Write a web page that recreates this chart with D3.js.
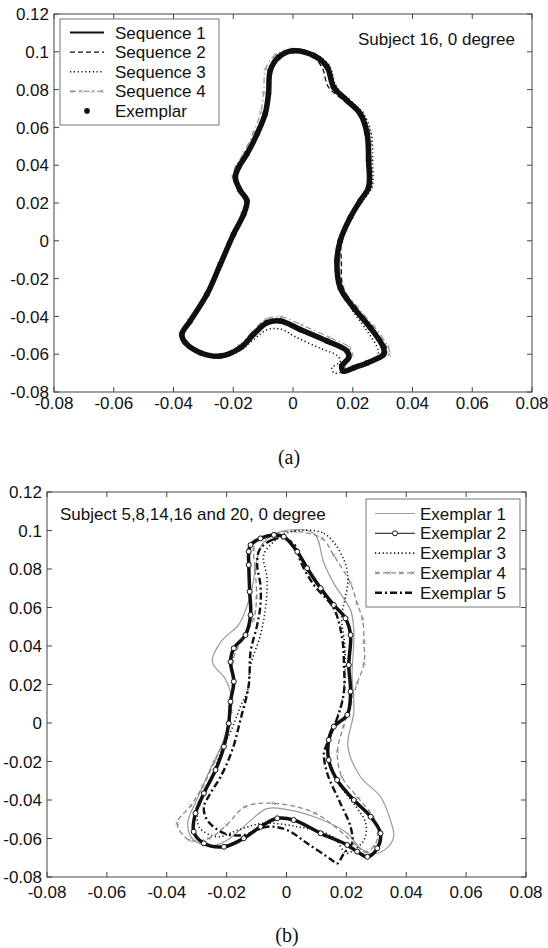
<!DOCTYPE html>
<html lang="en">
<head>
<meta charset="UTF-8">
<title>Silhouette contours, subject 16 and exemplars</title>
<style>
  body { margin: 0; background: #fff; }
  svg { display: block; }
  text { font-family: "Liberation Sans", Arial, sans-serif; fill: #111; }
  .caption { font-family: "Liberation Serif", "Times New Roman", serif; }
</style>
</head>
<body>
<svg id="chart" width="548" height="948"></svg>

<script src="https://d3js.org/d3.v7.min.js"></script>
<script>
// ---- axis ticks (same on both panels) ----
const xTicks = [-0.08, -0.06, -0.04, -0.02, 0, 0.02, 0.04, 0.06, 0.08];
const xTickLabels = ["-0.08", "-0.06", "-0.04", "-0.02", "0", "0.02", "0.04", "0.06", "0.08"];
const yTicks = [-0.08, -0.06, -0.04, -0.02, 0, 0.02, 0.04, 0.06, 0.08, 0.1, 0.12];
const yTickLabels = ["-0.08", "-0.06", "-0.04", "-0.02", "0", "0.02", "0.04", "0.06", "0.08", "0.1", "0.12"];

// ---- panel (a): subject 16, four sequences + exemplar ----
const seriesNamesA = ["Sequence 1", "Sequence 2", "Sequence 3", "Sequence 4", "Exemplar"];
const titleA = "Subject 16, 0 degree";

const seq1A = [
  [0.0000,0.1005],[0.0069,0.0980],[0.0114,0.0920],[0.0136,0.0813],[0.0180,0.0743],[0.0225,0.0672],
  [0.0248,0.0566],[0.0253,0.0424],[0.0253,0.0283],[0.0225,0.0212],[0.0192,0.0124],[0.0158,0.0000],
  [0.0147,-0.0106],[0.0158,-0.0248],[0.0203,-0.0354],[0.0259,-0.0460],[0.0303,-0.0566],[0.0303,-0.0601],
  [0.0248,-0.0646],[0.0203,-0.0672],[0.0169,-0.0690],[0.0163,-0.0663],[0.0186,-0.0619],[0.0181,-0.0584],
  [0.0114,-0.0530],[0.0024,-0.0469],[-0.0042,-0.0424],[-0.0087,-0.0433],[-0.0132,-0.0495],[-0.0176,-0.0566],
  [-0.0243,-0.0610],[-0.0310,-0.0592],[-0.0360,-0.0540],[-0.0372,-0.0495],[-0.0344,-0.0424],[-0.0288,-0.0283],
  [-0.0243,-0.0124],[-0.0199,0.0035],[-0.0165,0.0141],[-0.0154,0.0212],[-0.0176,0.0265],[-0.0193,0.0336],
  [-0.0182,0.0389],[-0.0154,0.0460],[-0.0120,0.0566],[-0.0093,0.0672],[-0.0082,0.0778],[-0.0076,0.0902],
  [-0.0048,0.0972]
];
const seq2A = [
  [0.0005,0.1000],[0.0066,0.0975],[0.0098,0.0915],[0.0118,0.0815],[0.0168,0.0745],[0.0220,0.0675],
  [0.0246,0.0566],[0.0251,0.0424],[0.0251,0.0283],[0.0222,0.0212],[0.0190,0.0124],[0.0162,0.0000],
  [0.0162,-0.0106],[0.0168,-0.0248],[0.0210,-0.0354],[0.0266,-0.0460],[0.0312,-0.0566],[0.0310,-0.0605],
  [0.0250,-0.0650],[0.0200,-0.0676],[0.0165,-0.0695],[0.0160,-0.0665],[0.0184,-0.0622],[0.0180,-0.0586],
  [0.0114,-0.0534],[0.0024,-0.0473],[-0.0042,-0.0428],[-0.0088,-0.0436],[-0.0133,-0.0497],[-0.0177,-0.0568],
  [-0.0244,-0.0612],[-0.0312,-0.0594],[-0.0362,-0.0540],[-0.0374,-0.0493],[-0.0346,-0.0422],[-0.0290,-0.0281],
  [-0.0245,-0.0122],[-0.0201,0.0037],[-0.0167,0.0143],[-0.0156,0.0214],[-0.0180,0.0265],[-0.0198,0.0336],
  [-0.0186,0.0391],[-0.0158,0.0462],[-0.0124,0.0568],[-0.0098,0.0674],[-0.0086,0.0780],[-0.0080,0.0905],
  [-0.0050,0.0975]
];
const seq3A = [
  [0.0010,0.1010],[0.0078,0.0985],[0.0122,0.0925],[0.0145,0.0815],[0.0190,0.0745],[0.0236,0.0672],
  [0.0262,0.0566],[0.0266,0.0424],[0.0264,0.0283],[0.0234,0.0212],[0.0198,0.0124],[0.0162,0.0000],
  [0.0150,-0.0106],[0.0155,-0.0248],[0.0195,-0.0360],[0.0245,-0.0470],[0.0285,-0.0580],[0.0280,-0.0625],
  [0.0225,-0.0660],[0.0180,-0.0685],[0.0138,-0.0700],[0.0130,-0.0672],[0.0158,-0.0640],[0.0150,-0.0610],
  [0.0090,-0.0568],[0.0010,-0.0510],[-0.0040,-0.0468],[-0.0085,-0.0470],[-0.0130,-0.0520],[-0.0176,-0.0580],
  [-0.0243,-0.0618],[-0.0310,-0.0598],[-0.0358,-0.0545],[-0.0370,-0.0495],[-0.0342,-0.0424],[-0.0287,-0.0283],
  [-0.0242,-0.0124],[-0.0198,0.0035],[-0.0164,0.0141],[-0.0153,0.0212],[-0.0175,0.0265],[-0.0192,0.0336],
  [-0.0181,0.0389],[-0.0153,0.0460],[-0.0119,0.0566],[-0.0092,0.0672],[-0.0081,0.0778],[-0.0075,0.0902],
  [-0.0045,0.0975]
];
const seq4A = [
  [-0.0005,0.1015],[0.0070,0.0990],[0.0118,0.0930],[0.0142,0.0822],[0.0186,0.0750],[0.0232,0.0678],
  [0.0258,0.0570],[0.0262,0.0424],[0.0262,0.0283],[0.0232,0.0212],[0.0198,0.0124],[0.0165,0.0000],
  [0.0156,-0.0106],[0.0168,-0.0248],[0.0215,-0.0350],[0.0272,-0.0455],[0.0318,-0.0560],[0.0322,-0.0600],
  [0.0262,-0.0640],[0.0212,-0.0664],[0.0178,-0.0680],[0.0176,-0.0652],[0.0198,-0.0604],[0.0190,-0.0566],
  [0.0120,-0.0510],[0.0030,-0.0446],[-0.0040,-0.0402],[-0.0090,-0.0415],[-0.0136,-0.0480],[-0.0182,-0.0555],
  [-0.0248,-0.0604],[-0.0316,-0.0588],[-0.0366,-0.0538],[-0.0378,-0.0493],[-0.0350,-0.0420],[-0.0294,-0.0280],
  [-0.0249,-0.0120],[-0.0205,0.0040],[-0.0172,0.0145],[-0.0162,0.0215],[-0.0185,0.0268],[-0.0202,0.0338],
  [-0.0192,0.0392],[-0.0165,0.0465],[-0.0133,0.0572],[-0.0108,0.0680],[-0.0098,0.0785],[-0.0092,0.0908],
  [-0.0058,0.0985]
];
// the exemplar is the contour of sequence 1
const exemplarA = seq1A;

// ---- panel (b): exemplars of subjects 5, 8, 14, 16 and 20 ----
const seriesNamesB = ["Exemplar 1", "Exemplar 2", "Exemplar 3", "Exemplar 4", "Exemplar 5"];
const titleB = "Subject 5,8,14,16 and 20, 0 degree";

const ex1B = [
  [-0.0020,0.0994],[0.0091,0.0985],[0.0125,0.0830],[0.0160,0.0720],[0.0214,0.0587],[0.0225,0.0474],
  [0.0219,0.0249],[0.0225,0.0059],[0.0205,-0.0120],[0.0247,-0.0279],[0.0314,-0.0383],[0.0347,-0.0504],
  [0.0358,-0.0590],[0.0335,-0.0650],[0.0290,-0.0680],[0.0250,-0.0655],[0.0203,-0.0573],[0.0114,-0.0500],
  [0.0002,-0.0450],[-0.0065,-0.0445],[-0.0130,-0.0520],[-0.0200,-0.0610],[-0.0260,-0.0640],[-0.0315,-0.0600],
  [-0.0330,-0.0520],[-0.0300,-0.0400],[-0.0255,-0.0240],[-0.0215,-0.0110],[-0.0190,0.0010],[-0.0185,0.0140],
  [-0.0205,0.0230],[-0.0248,0.0318],[-0.0220,0.0420],[-0.0160,0.0510],[-0.0143,0.0561],[-0.0115,0.0700],
  [-0.0100,0.0840],[-0.0080,0.0930]
];
const ex2B = [
  [-0.0120,0.0925],[-0.0087,0.0959],[-0.0042,0.0977],[-0.0009,0.0968],[0.0036,0.0890],[0.0069,0.0804],
  [0.0114,0.0700],[0.0158,0.0613],[0.0197,0.0544],[0.0214,0.0457],[0.0208,0.0301],[0.0214,0.0163],
  [0.0203,0.0042],[0.0158,-0.0019],[0.0141,-0.0088],[0.0141,-0.0192],[0.0169,-0.0296],[0.0225,-0.0400],
  [0.0281,-0.0487],[0.0314,-0.0573],[0.0303,-0.0651],[0.0270,-0.0695],[0.0236,-0.0668],[0.0203,-0.0634],
  [0.0114,-0.0573],[0.0024,-0.0504],[-0.0031,-0.0495],[-0.0087,-0.0539],[-0.0143,-0.0599],[-0.0209,-0.0643],
  [-0.0276,-0.0625],[-0.0310,-0.0565],[-0.0304,-0.0469],[-0.0276,-0.0365],[-0.0237,-0.0244],[-0.0209,-0.0123],
  [-0.0193,-0.0002],[-0.0187,0.0111],[-0.0176,0.0215],[-0.0187,0.0318],[-0.0176,0.0388],[-0.0137,0.0457],
  [-0.0120,0.0561],[-0.0123,0.0682],[-0.0126,0.0821],[-0.0126,0.0891]
];
const ex3B = [
  [0.0005,0.0990],[0.0125,0.0985],[0.0192,0.0847],[0.0205,0.0740],[0.0195,0.0640],[0.0184,0.0552],
  [0.0195,0.0396],[0.0195,0.0240],[0.0184,0.0102],[0.0154,-0.0036],[0.0137,-0.0175],[0.0166,-0.0296],
  [0.0224,-0.0417],[0.0265,-0.0522],[0.0259,-0.0608],[0.0224,-0.0660],[0.0200,-0.0677],[0.0154,-0.0591],
  [0.0037,-0.0539],[-0.0080,-0.0521],[-0.0161,-0.0556],[-0.0231,-0.0591],[-0.0290,-0.0545],[-0.0298,-0.0470],
  [-0.0287,-0.0417],[-0.0255,-0.0300],[-0.0220,-0.0157],[-0.0180,-0.0020],[-0.0150,0.0100],[-0.0131,0.0163],
  [-0.0120,0.0301],[-0.0087,0.0457],[-0.0070,0.0600],[-0.0065,0.0750],[-0.0076,0.0873],[-0.0042,0.0942]
];
const ex4B = [
  [-0.0100,0.0950],[-0.0040,0.0985],[0.0030,0.0995],[0.0119,0.0959],[0.0158,0.0870],[0.0214,0.0726],
  [0.0236,0.0620],[0.0254,0.0540],[0.0259,0.0420],[0.0259,0.0310],[0.0236,0.0206],[0.0215,0.0100],
  [0.0190,-0.0020],[0.0170,-0.0150],[0.0185,-0.0280],[0.0240,-0.0390],[0.0290,-0.0490],[0.0306,-0.0580],
  [0.0292,-0.0640],[0.0262,-0.0670],[0.0230,-0.0630],[0.0096,-0.0469],[-0.0044,-0.0417],[-0.0138,-0.0435],
  [-0.0200,-0.0530],[-0.0260,-0.0600],[-0.0325,-0.0608],[-0.0365,-0.0521],[-0.0320,-0.0430],[-0.0280,-0.0330],
  [-0.0240,-0.0200],[-0.0205,-0.0070],[-0.0185,0.0060],[-0.0180,0.0200],[-0.0180,0.0320],[-0.0150,0.0430],
  [-0.0110,0.0540],[-0.0100,0.0650],[-0.0105,0.0800],[-0.0110,0.0900]
];
const ex5B = [
  [-0.0090,0.0900],[-0.0050,0.0950],[-0.0010,0.0960],[0.0030,0.0920],[0.0047,0.0838],[0.0090,0.0720],
  [0.0158,0.0595],[0.0186,0.0440],[0.0192,0.0301],[0.0192,0.0163],[0.0175,0.0050],[0.0136,-0.0105],
  [0.0125,-0.0157],[0.0136,-0.0261],[0.0180,-0.0417],[0.0214,-0.0539],[0.0219,-0.0625],[0.0192,-0.0677],
  [0.0169,-0.0730],[0.0150,-0.0710],[0.0069,-0.0625],[0.0002,-0.0556],[-0.0064,-0.0539],[-0.0143,-0.0582],
  [-0.0208,-0.0573],[-0.0265,-0.0504],[-0.0276,-0.0435],[-0.0254,-0.0365],[-0.0220,-0.0279],[-0.0181,-0.0140],
  [-0.0154,0.0016],[-0.0126,0.0197],[-0.0120,0.0370],[-0.0098,0.0509],[-0.0087,0.0613],[-0.0087,0.0717],
  [-0.0098,0.0821]
];

// ---- drawing ----
const svg = d3.select("#chart");

const styles = {
  solidBlack:  { color: "#111", width: 2 },
  dashed:      { color: "#111", width: 1.3, dash: "5 3" },
  dotted:      { color: "#111", width: 1.6, dash: "1.2 2.6" },
  grayDashDot: { color: "#999", width: 1.3, dash: "6 3 1.5 3", marker: "x" },
  exemplar:    { color: "#111", width: 5.5, marker: "dot" },
  graySolid:   { color: "#999", width: 1.2 },
  circles:     { color: "#111", width: 3.5, marker: "circle" },
  grayDashed:  { color: "#888", width: 1.3, dash: "5 3", marker: "x" },
  dashDot:     { color: "#111", width: 2.4, dash: "7 3 2 3" }
};

function drawMarkers(g, pts, st) {
  if (st.marker === "circle") {
    g.selectAll(null).data(pts).enter().append("circle")
      .attr("cx", d => d[0]).attr("cy", d => d[1]).attr("r", 2.5)
      .attr("fill", "#fff").attr("stroke", st.color).attr("stroke-width", 1);
  } else if (st.marker === "dot") {
    g.selectAll(null).data(pts).enter().append("circle")
      .attr("cx", d => d[0]).attr("cy", d => d[1]).attr("r", 2.8)
      .attr("fill", st.color);
  } else if (st.marker === "x") {
    g.selectAll(null).data(pts).enter().append("path")
      .attr("d", d => `M${d[0]-1.6},${d[1]-1.6}L${d[0]+1.6},${d[1]+1.6}M${d[0]-1.6},${d[1]+1.6}L${d[0]+1.6},${d[1]-1.6}`)
      .attr("stroke", st.color).attr("stroke-width", 0.9);
  }
}

function drawContour(g, x, y, data, st) {
  const line = d3.line()
    .x(d => x(d[0])).y(d => y(d[1]))
    .curve(d3.curveCatmullRomClosed.alpha(0.5));
  g.append("path").datum(data)
    .attr("d", line)
    .attr("fill", "none")
    .attr("stroke", st.color)
    .attr("stroke-width", st.width)
    .attr("stroke-dasharray", st.dash || null)
    .attr("stroke-linejoin", "round")
    .attr("stroke-linecap", st.marker === "dot" ? "round" : "butt");
  drawMarkers(g, data.map(d => [x(d[0]), y(d[1])]), st);
}

function drawAxes(g, x, y, box) {
  g.append("rect")
    .attr("x", box.left).attr("y", box.top)
    .attr("width", box.right - box.left).attr("height", box.bottom - box.top)
    .attr("fill", "none").attr("stroke", "#444").attr("stroke-width", 1);

  const tl = 5;
  xTicks.forEach((t, i) => {
    const px = x(t);
    g.append("line").attr("x1", px).attr("x2", px).attr("y1", box.bottom).attr("y2", box.bottom - tl)
      .attr("stroke", "#444");
    g.append("line").attr("x1", px).attr("x2", px).attr("y1", box.top).attr("y2", box.top + tl)
      .attr("stroke", "#444");
    g.append("text").attr("x", px).attr("y", box.bottom + box.xLabelDy)
      .attr("text-anchor", "middle").attr("font-size", 17)
      .text(xTickLabels[i]);
  });
  yTicks.forEach((t, i) => {
    const py = y(t);
    g.append("line").attr("x1", box.left).attr("x2", box.left + tl).attr("y1", py).attr("y2", py)
      .attr("stroke", "#444");
    g.append("line").attr("x1", box.right).attr("x2", box.right - tl).attr("y1", py).attr("y2", py)
      .attr("stroke", "#444");
    g.append("text").attr("x", box.left - 5).attr("y", py).attr("dy", "0.36em")
      .attr("text-anchor", "end").attr("font-size", 17)
      .text(yTickLabels[i]);
  });
}

function drawLegend(g, lg, names, sts) {
  g.append("rect")
    .attr("x", lg.x).attr("y", lg.y).attr("width", lg.w).attr("height", lg.h)
    .attr("fill", "#fff").attr("stroke", "#777").attr("stroke-width", 1);
  names.forEach((name, i) => {
    const cy = lg.firstY + i * lg.step;
    const st = sts[i];
    const mid = (lg.x1 + lg.x2) / 2;
    if (st.marker !== "dot") {
      g.append("line").attr("x1", lg.x1).attr("x2", lg.x2).attr("y1", cy).attr("y2", cy)
        .attr("stroke", st.color)
        .attr("stroke-width", st.marker === "circle" ? 1 : Math.min(st.width, 2.4))
        .attr("stroke-dasharray", st.dash || null);
    }
    if (st.marker === "circle" || st.marker === "dot") {
      drawMarkers(g, [[mid, cy]], st);
    } else if (st.marker === "x") {
      drawMarkers(g, [[lg.x1 + 2, cy], [mid - 6, cy], [mid + 6, cy], [lg.x2 - 2, cy]], st);
    }
    g.append("text").attr("x", lg.textX).attr("y", cy).attr("dy", "0.36em")
      .attr("font-size", 17).text(name);
  });
}

function drawPanel(p) {
  const g = svg.append("g");
  const x = d3.scaleLinear().domain([-0.08, 0.08]).range([p.box.left, p.box.right]);
  const y = d3.scaleLinear().domain([-0.08, 0.12]).range([p.box.bottom, p.box.top]);

  p.layers.forEach(l => drawContour(g, x, y, l.data, l.style));
  drawAxes(g, x, y, p.box);
  drawLegend(g, p.legend, p.names, p.legendStyles);

  g.append("text").attr("x", p.title.x).attr("y", p.title.y)
    .attr("font-size", 17).text(p.title.text);
  g.append("text").attr("class", "caption")
    .attr("x", p.caption.x).attr("y", p.caption.y)
    .attr("text-anchor", "middle").attr("font-size", 20)
    .text(p.caption.text);
}

drawPanel({
  box: { left: 54, right: 532, top: 14, bottom: 392, xLabelDy: 17 },
  layers: [
    { data: seq4A, style: styles.grayDashDot },
    { data: exemplarA, style: styles.exemplar },
    { data: seq1A, style: styles.solidBlack },
    { data: seq2A, style: styles.dashed },
    { data: seq3A, style: styles.dotted }
  ],
  names: seriesNamesA,
  legendStyles: [styles.solidBlack, styles.dashed, styles.dotted, styles.grayDashDot, styles.exemplar],
  legend: { x: 60, y: 19, w: 159, h: 106, firstY: 32.5, step: 19.6, x1: 70, x2: 104, textX: 115 },
  title: { x: 358, y: 45, text: titleA },
  caption: { x: 289, y: 464, text: "(a)" }
});

drawPanel({
  box: { left: 47, right: 526, top: 492, bottom: 877, xLabelDy: 21 },
  layers: [
    { data: ex1B, style: styles.graySolid },
    { data: ex4B, style: styles.grayDashed },
    { data: ex3B, style: styles.dotted },
    { data: ex5B, style: styles.dashDot },
    { data: ex2B, style: styles.circles }
  ],
  names: seriesNamesB,
  legendStyles: [styles.graySolid, styles.circles, styles.dotted, styles.grayDashed, styles.dashDot],
  legend: { x: 366, y: 499, w: 154, h: 108, firstY: 513.5, step: 19.8, x1: 375, x2: 415, textX: 420 },
  title: { x: 60, y: 520, text: titleB },
  caption: { x: 287, y: 942, text: "(b)" }
});
</script>
</body>
</html>
